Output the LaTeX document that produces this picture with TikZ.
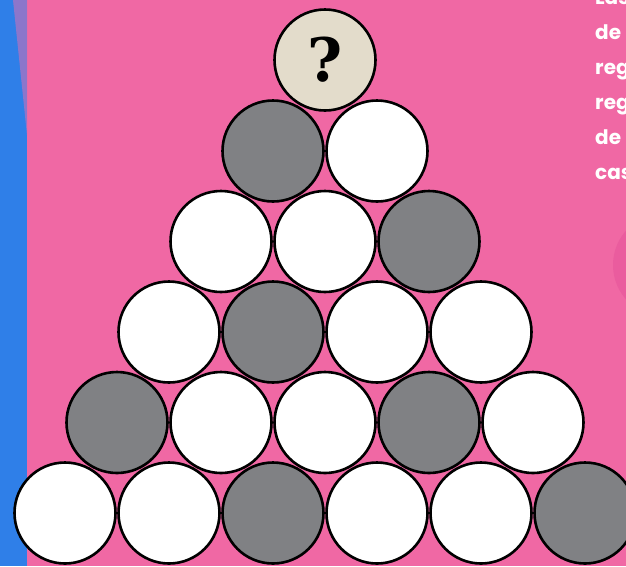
\documentclass[tikz,border=0pt]{standalone}
\usepackage{fontspec}
\newfontfamily\txtfont{Poppins}[UprightFont=* Bold]
\newfontfamily\qfont{DejaVu Serif}[UprightFont=* Bold]
\definecolor{bgpink}{HTML}{F068A4}
\definecolor{darkpink}{HTML}{EA5C9E}
\definecolor{stripblue}{HTML}{2F7FE8}
\definecolor{wedge}{HTML}{A474C4}
\definecolor{ballgray}{HTML}{808184}
\definecolor{ballbeige}{HTML}{E3DCCB}
\tikzset{
  ball/.style={circle, draw=black, line width=2.6pt, minimum size=101pt, inner sep=0pt},
  wball/.style={ball, fill=white},
  gball/.style={ball, fill=ballgray},
  qball/.style={ball, fill=ballbeige, font=\qfont\fontsize{60}{60}\selectfont},
  sidetext/.style={anchor=north west, text=white, align=left, inner sep=0pt,
    font=\txtfont\fontsize{20}{35}\selectfont}
}
\begin{document}
\begin{tikzpicture}[x=1pt,y=-1pt]
\useasboundingbox (0,0) rectangle (626,566);
\clip (0,0) rectangle (626,566);
\fill[bgpink] (0,0) rectangle (626,566);
\fill[stripblue] (0,0) rectangle (27,566);
\fill[wedge, opacity=0.8] (13,0) -- (27,0) -- (27,135) -- cycle;
\fill[darkpink] (665,265) circle (52);
\node[sidetext] (txt) at (595,-10) {Las\\de\\reg\\reg\\de\\cas};
% row 1
\node[qball] (b11) at (325,60) {?};
% row 2
\node[gball] (b21) at (273,151) {};
\node[wball] (b22) at (377,151) {};
% row 3
\node[wball] (b31) at (221,241.5) {};
\node[wball] (b32) at (325,241.5) {};
\node[gball] (b33) at (429,241.5) {};
% row 4
\node[wball] (b41) at (169,332) {};
\node[gball] (b42) at (273,332) {};
\node[wball] (b43) at (377,332) {};
\node[wball] (b44) at (481,332) {};
% row 5
\node[gball] (b51) at (117,422.5) {};
\node[wball] (b52) at (221,422.5) {};
\node[wball] (b53) at (325,422.5) {};
\node[gball] (b54) at (429,422.5) {};
\node[wball] (b55) at (533,422.5) {};
% row 6
\node[wball] (b61) at (65,513) {};
\node[wball] (b62) at (169,513) {};
\node[gball] (b63) at (273,513) {};
\node[wball] (b64) at (377,513) {};
\node[wball] (b65) at (481,513) {};
\node[gball] (b66) at (585,513) {};
\end{tikzpicture}
\end{document}
